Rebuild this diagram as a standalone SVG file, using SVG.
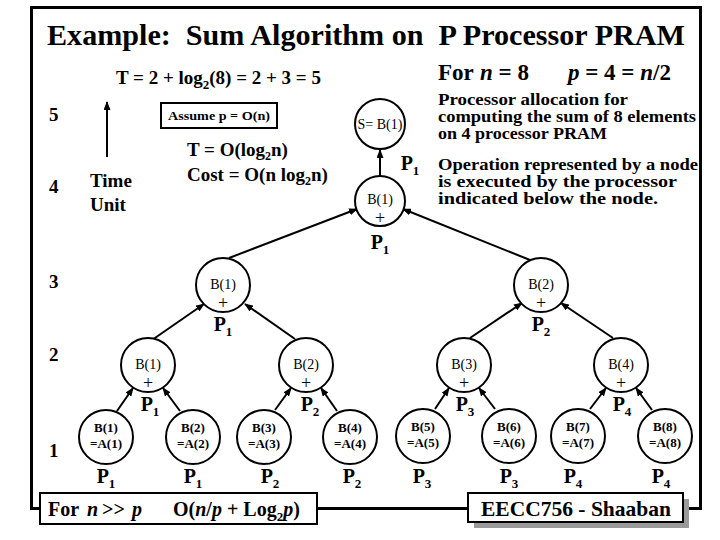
<svg xmlns="http://www.w3.org/2000/svg" width="720" height="540" viewBox="0 0 720 540">
<style>
.t{font-family:"Liberation Serif","Times New Roman",serif;font-weight:bold;fill:#000}
.n{font-family:"Liberation Serif","Times New Roman",serif;font-size:14px;fill:#000;text-anchor:middle}
.lf{font-family:"Liberation Serif","Times New Roman",serif;font-size:13px;font-weight:bold;fill:#000;text-anchor:middle}
.pl{font-family:"Liberation Serif","Times New Roman",serif;font-size:20px;font-weight:bold;fill:#000;text-anchor:middle}
.plus{font-family:"Liberation Serif","Times New Roman",serif;font-size:18px;fill:#000;text-anchor:middle}
.c{fill:#fff;stroke:#000;stroke-width:2}
.e line{stroke:#000;stroke-width:2;marker-end:url(#ah)}
</style>
<defs>
<marker id="ah" markerUnits="userSpaceOnUse" markerWidth="9" markerHeight="7" refX="8" refY="3.5" orient="auto"><path d="M0,0 L9,3.5 L0,7 z" fill="#000"/></marker>
</defs>
<rect width="720" height="540" fill="#fff"/>
<rect x="31.5" y="7.5" width="669" height="501" fill="none" stroke="#000" stroke-width="3"/>
<text class="t" x="47" y="45" font-size="30" textLength="638" lengthAdjust="spacingAndGlyphs" xml:space="preserve">Example:  Sum Algorithm on  P Processor PRAM</text>
<text class="t" x="116" y="84" font-size="19">T = 2 + log<tspan font-size="13" dy="5">2</tspan><tspan dy="-5">(8) = 2 + 3 = 5</tspan></text>
<g id="forn">
<text class="t" x="438" y="80" font-size="23">For</text>
<text class="t" x="480" y="80" font-size="23"><tspan font-style="italic">n</tspan> = 8</text>
<text class="t" x="568" y="80" font-size="23"><tspan font-style="italic">p</tspan> = 4 = <tspan font-style="italic">n</tspan>/2</text>
</g>
<g id="notes" class="t" font-size="16">
<text x="438" y="105" textLength="190" lengthAdjust="spacingAndGlyphs">Processor allocation for</text>
<text x="438" y="122" textLength="258" lengthAdjust="spacingAndGlyphs">computing the sum of 8 elements</text>
<text x="438" y="139" textLength="169" lengthAdjust="spacingAndGlyphs">on 4 processor PRAM</text>
<text x="438" y="170" textLength="260" lengthAdjust="spacingAndGlyphs">Operation represented by a node</text>
<text x="438" y="187" textLength="239" lengthAdjust="spacingAndGlyphs">is executed by the processor</text>
<text x="438" y="204" textLength="220" lengthAdjust="spacingAndGlyphs">indicated below the node.</text>
</g>
<g id="levels" class="t" font-size="19">
<text x="49" y="121">5</text>
<text x="49" y="193">4</text>
<text x="49" y="288">3</text>
<text x="49" y="361">2</text>
<text x="49" y="457">1</text>
</g>
<g id="timeunit">
<line x1="107" y1="157" x2="107" y2="102" stroke="#000" stroke-width="2" marker-end="url(#ah)"/>
<text class="t" x="90" y="187" font-size="19">Time</text>
<text class="t" x="90" y="211" font-size="19">Unit</text>
</g>
<g id="assume">
<rect x="161" y="103" width="116" height="25" fill="#fff" stroke="#000" stroke-width="2"/>
<text class="t" x="219" y="120" font-size="13" text-anchor="middle" textLength="102" lengthAdjust="spacingAndGlyphs">Assume p = O(n)</text>
</g>
<g id="complexity" class="t" font-size="19">
<text x="187" y="156">T = O(log<tspan font-size="12" dy="4">2</tspan><tspan dy="-4">n)</tspan></text>
<text x="187" y="181">Cost = O(n log<tspan font-size="12" dy="4">2</tspan><tspan dy="-4">n)</tspan></text>
</g>
<g class="e" id="connectors">
<line x1="380" y1="176" x2="380" y2="150"/>
<line x1="229" y1="258" x2="357" y2="209"/>
<line x1="530" y1="260" x2="403" y2="209"/>
<line x1="152" y1="340" x2="204" y2="304"/>
<line x1="295" y1="339" x2="245" y2="304"/>
<line x1="470" y1="338" x2="522" y2="303"/>
<line x1="613" y1="338" x2="561" y2="303"/>
<line x1="117" y1="411" x2="133" y2="388"/>
<line x1="180" y1="411" x2="163" y2="388"/>
<line x1="275" y1="410" x2="291" y2="388"/>
<line x1="337" y1="411" x2="321" y2="388"/>
<line x1="435" y1="409" x2="449" y2="388"/>
<line x1="495" y1="409" x2="479" y2="388"/>
<line x1="590" y1="409" x2="606" y2="388"/>
<line x1="652" y1="410" x2="636" y2="388"/>
</g>
<g id="nS"><circle class="c" cx="380" cy="124" r="25"/><text class="n" x="380" y="129" font-size="13">S= B(1)</text></g>
<text class="pl" x="410" y="170">P<tspan font-size="13" dy="5">1</tspan></text>
<g id="n4"><circle class="c" cx="380" cy="201" r="25"/><text class="n" x="380" y="204">B(1)</text><text class="plus" x="380" y="224">+</text><text class="pl" x="380" y="249">P<tspan font-size="13" dy="5">1</tspan></text></g>
<g id="n3a"><circle class="c" cx="223" cy="285" r="27"/><text class="n" x="223" y="289">B(1)</text><text class="plus" x="223" y="309">+</text><text class="pl" x="223" y="331">P<tspan font-size="13" dy="5">1</tspan></text></g>
<g id="n3b"><circle class="c" cx="541" cy="285" r="27"/><text class="n" x="541" y="289">B(2)</text><text class="plus" x="541" y="309">+</text><text class="pl" x="541" y="331">P<tspan font-size="13" dy="5">2</tspan></text></g>
<g id="n2a"><circle class="c" cx="148" cy="365" r="27"/><text class="n" x="148" y="369">B(1)</text><text class="plus" x="148" y="389">+</text><text class="pl" x="150" y="411">P<tspan font-size="13" dy="5">1</tspan></text></g>
<g id="n2b"><circle class="c" cx="306" cy="365" r="27"/><text class="n" x="306" y="369">B(2)</text><text class="plus" x="306" y="389">+</text><text class="pl" x="310" y="411">P<tspan font-size="13" dy="5">2</tspan></text></g>
<g id="n2c"><circle class="c" cx="464" cy="365" r="27"/><text class="n" x="464" y="369">B(3)</text><text class="plus" x="464" y="389">+</text><text class="pl" x="465" y="411">P<tspan font-size="13" dy="5">3</tspan></text></g>
<g id="n2d"><circle class="c" cx="621" cy="365" r="27"/><text class="n" x="621" y="369">B(4)</text><text class="plus" x="621" y="389">+</text><text class="pl" x="622" y="411">P<tspan font-size="13" dy="5">4</tspan></text></g>
<g id="l1"><circle class="c" cx="106" cy="437" r="27"/><text class="lf" x="106" y="432">B(1)</text><text class="lf" x="106" y="448">=A(1)</text><text class="pl" x="106" y="483">P<tspan font-size="13" dy="5">1</tspan></text></g>
<g id="l2"><circle class="c" cx="193" cy="437" r="27"/><text class="lf" x="193" y="432">B(2)</text><text class="lf" x="193" y="448">=A(2)</text><text class="pl" x="193" y="483">P<tspan font-size="13" dy="5">1</tspan></text></g>
<g id="l3"><circle class="c" cx="264" cy="437" r="27"/><text class="lf" x="264" y="432">B(3)</text><text class="lf" x="264" y="448">=A(3)</text><text class="pl" x="270" y="483">P<tspan font-size="13" dy="5">2</tspan></text></g>
<g id="l4"><circle class="c" cx="350" cy="437" r="27"/><text class="lf" x="350" y="432">B(4)</text><text class="lf" x="350" y="448">=A(4)</text><text class="pl" x="352" y="483">P<tspan font-size="13" dy="5">2</tspan></text></g>
<g id="l5"><circle class="c" cx="423" cy="436" r="27"/><text class="lf" x="423" y="431">B(5)</text><text class="lf" x="423" y="447">=A(5)</text><text class="pl" x="422" y="483">P<tspan font-size="13" dy="5">3</tspan></text></g>
<g id="l6"><circle class="c" cx="509" cy="436" r="27"/><text class="lf" x="509" y="431">B(6)</text><text class="lf" x="509" y="447">=A(6)</text><text class="pl" x="509" y="483">P<tspan font-size="13" dy="5">3</tspan></text></g>
<g id="l7"><circle class="c" cx="578" cy="436" r="27"/><text class="lf" x="578" y="431">B(7)</text><text class="lf" x="578" y="447">=A(7)</text><text class="pl" x="573" y="483">P<tspan font-size="13" dy="5">4</tspan></text></g>
<g id="l8"><circle class="c" cx="665" cy="436" r="27"/><text class="lf" x="665" y="431">B(8)</text><text class="lf" x="665" y="447">=A(8)</text><text class="pl" x="661" y="483">P<tspan font-size="13" dy="5">4</tspan></text></g>
<g id="footer1">
<rect x="40" y="493" width="277" height="31" fill="#fff" stroke="#000" stroke-width="2"/>
<text class="t" x="48" y="516" font-size="20">For</text>
<text class="t" x="87" y="516" font-size="20" font-style="italic">n</text>
<text class="t" x="102" y="516" font-size="20" font-weight="normal">&gt;&gt;</text>
<text class="t" x="132" y="516" font-size="20" font-style="italic">p</text>
<text class="t" x="173" y="516" font-size="20">O(<tspan font-style="italic">n</tspan>/<tspan font-style="italic">p</tspan> +  Log<tspan font-size="13" dy="5">2</tspan><tspan dy="-5" font-style="italic">p</tspan>)</text>
</g>
<g id="footer2">
<rect x="474" y="499" width="215" height="29" fill="#9a9a9a"/>
<rect x="468" y="493" width="215" height="29" fill="#fff" stroke="#000" stroke-width="2"/>
<text class="t" x="576" y="516" font-size="22" text-anchor="middle" textLength="190" lengthAdjust="spacingAndGlyphs">EECC756 - Shaaban</text>
</g>
</svg>
